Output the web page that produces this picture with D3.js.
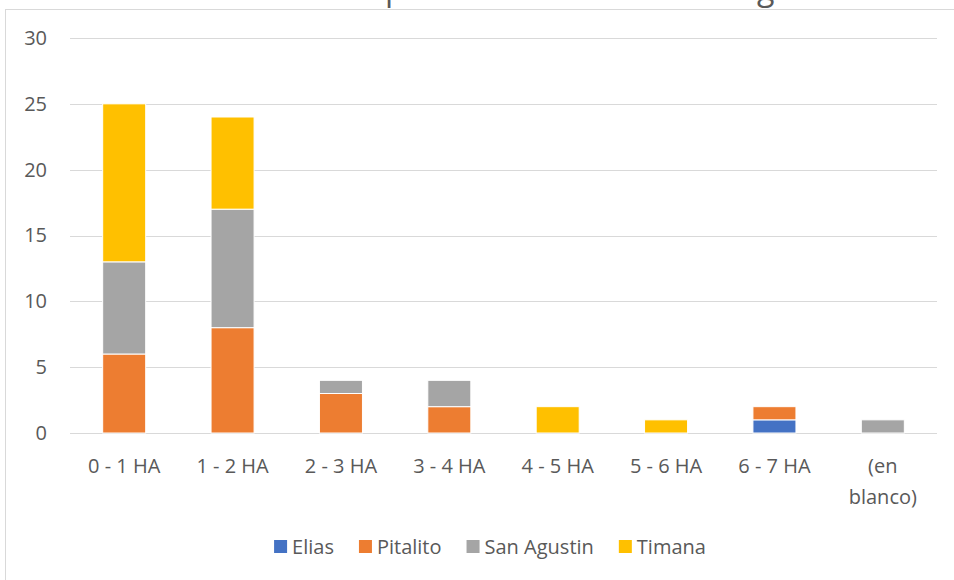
<!DOCTYPE html>
<html><head><meta charset="utf-8">
<script src="https://cdn.jsdelivr.net/npm/d3@7"></script>
<style>
html,body{margin:0;padding:0;background:#fff;}
svg{display:block;font-family:"Open Sans","Noto Sans",sans-serif;}
</style></head>
<body><svg id="c" width="954" height="580"></svg>
<script>
const categories = ["0 - 1 HA","1 - 2 HA","2 - 3 HA","3 - 4 HA","4 - 5 HA","5 - 6 HA","6 - 7 HA","(en blanco)"];
const seriesNames = ["Elias","Pitalito","San Agustin","Timana"];
const elias      = [0,0,0,0,0,0,1,0];
const pitalito   = [6,8,3,2,0,0,1,0];
const sanAgustin = [7,9,1,2,0,0,0,1];
const timana     = [12,7,0,0,2,1,0,0];
const yTicks = [0,5,10,15,20,25,30];
const colors = ["#4472C4","#ED7D31","#A5A5A5","#FFC000"];
const titleText = "Cantidad de fincas por hectáreas en cada región";

const svg = d3.select("#c");
const rows = categories.map((c,i)=>({cat:c, "Elias":elias[i], "Pitalito":pitalito[i], "San Agustin":sanAgustin[i], "Timana":timana[i]}));
const stacked = d3.stack().keys(seriesNames)(rows);

const x = d3.scaleBand().domain(categories).range([70,937]).paddingInner(0.603).paddingOuter(0.3015);
const y = d3.scaleLinear().domain([0,30]).range([433,38]);
const color = d3.scaleOrdinal().domain(seriesNames).range(colors);

// chart border
svg.append("rect").attr("x",5.5).attr("y",9.5).attr("width",1000).attr("height",1000)
  .attr("fill","#fff").attr("stroke","#d9d9d9").attr("stroke-width",1);

// title (cut off at top, as in the reference)
const title = svg.append("text").attr("x",0).attr("y",0).attr("font-size",31).attr("fill","#595959").text(titleText);
{
  const node = title.node();
  const pi = titleText.indexOf("p"), gi = titleText.lastIndexOf("g");
  const px = node.getStartPositionOfChar(pi).x, gx = node.getStartPositionOfChar(gi).x;
  const s = (757-385)/(gx-px);
  title.attr("font-size",31*s);
  const px2 = node.getStartPositionOfChar(pi).x;
  title.attr("x",385-px2).attr("y",-0.5);
}

// gridlines
svg.append("g").selectAll("line").data(yTicks).join("line")
  .attr("x1",70).attr("x2",937).attr("y1",d=>Math.round(y(d))+0.5).attr("y2",d=>Math.round(y(d))+0.5)
  .attr("stroke","#d9d9d9").attr("stroke-width",1);

// y axis
const yAxis = d3.axisLeft(y).tickValues(yTicks).tickSize(0).tickPadding(0);
const ya = svg.append("g").attr("transform","translate(47,0)").call(yAxis);
ya.select(".domain").remove();
ya.selectAll("text").attr("font-size",20).attr("fill","#595959").attr("font-family","Open Sans");

// bars
svg.append("g").selectAll("g").data(stacked).join("g")
  .attr("fill",d=>color(d.key))
  .selectAll("rect").data(d=>d.filter(v=>v[1]-v[0]>0)).join("rect")
  .attr("x",d=>x(d.data.cat)).attr("width",x.bandwidth())
  .attr("y",d=>y(d[1])).attr("height",d=>y(d[0])-y(d[1]))
  .attr("stroke","#fff").attr("stroke-width",1);

// x axis
const xAxis = d3.axisBottom(x).tickSize(0).tickPadding(0);
const xa = svg.append("g").attr("transform","translate(0,433)").call(xAxis);
xa.select(".domain").remove();
xa.selectAll("text").attr("font-size",20).attr("fill","#595959").attr("font-family","Open Sans")
  .attr("dy",null)
  .each(function(d){
    const t = d3.select(this);
    const words = d.split(" ");
    t.text(null).attr("y",0);
    const w = x.step()*0.9;
    let lines=[], cur=[];
    const probe = svg.append("text").attr("font-size",20).attr("font-family","Open Sans");
    words.forEach(wd=>{
      const test = cur.concat(wd).join(" ");
      probe.text(test);
      if (probe.node().getComputedTextLength()>w && cur.length){ lines.push(cur.join(" ")); cur=[wd]; }
      else cur.push(wd);
    });
    lines.push(cur.join(" "));
    probe.remove();
    lines.forEach((ln,i)=>t.append("tspan").attr("x",0).attr("y",40+i*31).text(ln));
  });

// legend
const lg = svg.append("g");
const items = lg.selectAll("g").data(seriesNames).join("g");
items.append("rect").attr("width",13).attr("height",13).attr("y",-7).attr("fill",d=>color(d));
items.append("text").attr("x",18).attr("y",0).attr("dy","0.35em").attr("font-size",20).attr("fill","#595959").text(d=>d);
let off=0;
const gap=25;
items.each(function(){
  const g=d3.select(this);
  g.attr("transform",`translate(${off},547)`);
  off += 18 + g.select("text").node().getComputedTextLength() + gap;
});
const total = off-gap;
lg.attr("transform",`translate(${490-total/2},0)`);
</script>
</body></html>
